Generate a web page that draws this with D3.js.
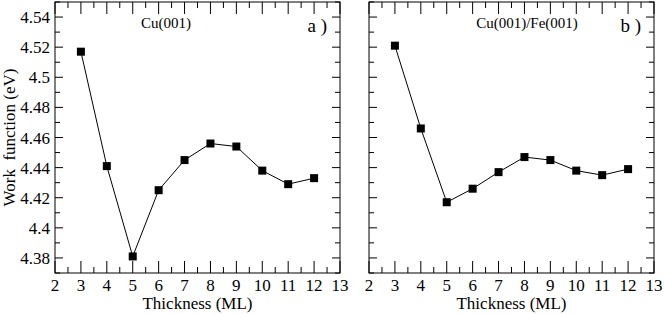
<!DOCTYPE html>
<html>
<head>
    <meta charset="utf-8">
    <script src="https://d3js.org/d3.v7.min.js"></script>
</head>
<body style="margin:0">
<script>
// data
const thickness = [3, 4, 5, 6, 7, 8, 9, 10, 11, 12];
const workCu = [4.517, 4.441, 4.381, 4.425, 4.445, 4.456, 4.454, 4.438, 4.429, 4.433];
const workCuFe = [4.521, 4.466, 4.417, 4.426, 4.437, 4.447, 4.445, 4.438, 4.435, 4.439];
const xTicks = [2, 3, 4, 5, 6, 7, 8, 9, 10, 11, 12, 13];
const yTicks = [4.38, 4.40, 4.42, 4.44, 4.46, 4.48, 4.50, 4.52, 4.54];
const yTickLabels = ["4.38", "4.4", "4.42", "4.44", "4.46", "4.48", "4.5", "4.52", "4.54"];
const panelNames = ["Cu(001)", "Cu(001)/Fe(001)"];
const panelTags = ["a )", "b )"];

const width = 664, height = 314;
const svg = d3.select("body").append("svg")
    .attr("width", width)
    .attr("height", height)
    .style("display", "block");

const plotTop = 2, plotBottom = 273;
const panels = [
    {left: 55, right: 340, values: workCu, name: panelNames[0], tag: panelTags[0], yLabels: true, nameX: 166},
    {left: 369, right: 654, values: workCuFe, name: panelNames[1], tag: panelTags[1], yLabels: false, nameX: 527}
];

const y = d3.scaleLinear().domain([4.37, 4.55]).range([plotBottom, plotTop]);

function addText(parent, size, str) {
    return parent.append("text")
        .attr("font-size", size)
        .attr("font-family", "Liberation Serif")
        .style("font-family", "'Liberation Serif'")
        .text(str);
}

panels.forEach(p => {
    const x = d3.scaleLinear().domain([2, 13]).range([p.left, p.right]);
    const g = svg.append("g");

    // minor + major ticks on all four sides, pointing in
    const xMinor = d3.range(2.5, 13, 1);
    const yMinor = d3.range(4.37, 4.555, 0.02);
    const tick = (x1, y1, x2, y2) => g.append("line")
        .attr("stroke", "black").attr("stroke-width", 1)
        .attr("x1", x1).attr("y1", y1).attr("x2", x2).attr("y2", y2);

    xTicks.forEach(t => {
        tick(x(t), plotBottom, x(t), plotBottom - 12);
        tick(x(t), plotTop, x(t), plotTop + 12);
    });
    xMinor.forEach(t => {
        tick(x(t), plotBottom, x(t), plotBottom - 6);
        tick(x(t), plotTop, x(t), plotTop + 6);
    });
    yTicks.forEach(t => {
        tick(p.left, y(t), p.left + 8, y(t));
        tick(p.right, y(t), p.right - 8, y(t));
    });
    yMinor.forEach(t => {
        tick(p.left, y(t), p.left + 5, y(t));
        tick(p.right, y(t), p.right - 5, y(t));
    });

    g.append("rect")
        .attr("fill", "none").attr("stroke", "black").attr("stroke-width", 1)
        .attr("x", p.left).attr("y", plotTop)
        .attr("width", p.right - p.left).attr("height", plotBottom - plotTop);

    xTicks.forEach(t => {
        addText(g, 17, t)
            .attr("x", x(t)).attr("y", 291)
            .attr("text-anchor", "middle");
    });

    addText(g, 17, "Thickness (ML)")
        .attr("x", (p.left + p.right) / 2).attr("y", 309)
        .attr("text-anchor", "middle");

    if (p.yLabels) {
        yTicks.forEach((t, i) => {
            addText(g, 17, yTickLabels[i])
                .attr("x", p.left - 5).attr("y", y(t) + 6)
                .attr("text-anchor", "end");
        });
    }

    addText(g, 15, p.name)
        .attr("x", p.nameX).attr("y", 28)
        .attr("text-anchor", "middle");

    addText(g, 19, p.tag)
        .attr("x", p.right - 13).attr("y", 32)
        .attr("text-anchor", "end");

    const line = d3.line().x((d, i) => x(thickness[i])).y(d => y(d));
    g.append("path")
        .attr("fill", "none").attr("stroke", "black").attr("stroke-width", 1)
        .attr("d", line(p.values));

    g.selectAll(".pt").data(p.values).join("rect")
        .attr("x", (d, i) => x(thickness[i]) - 4)
        .attr("y", d => y(d) - 4)
        .attr("width", 8).attr("height", 8)
        .attr("fill", "black");
});

addText(svg, 17, "Work\u00a0 function (eV)")
    .attr("transform", `translate(15,${(plotTop + plotBottom) / 2}) rotate(-90)`)
    .attr("text-anchor", "middle");
</script>
</body>
</html>
